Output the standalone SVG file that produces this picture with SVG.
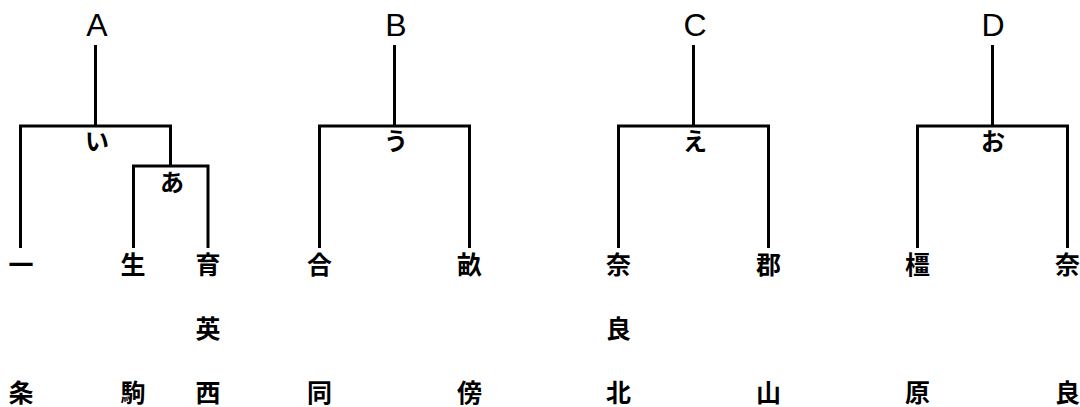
<svg xmlns="http://www.w3.org/2000/svg" width="1080" height="407" viewBox="0 0 1080 407">
<style>
.ln{fill:none;stroke:#000;stroke-width:3;stroke-linecap:butt;stroke-linejoin:miter}
.rt{font-family:"Liberation Sans","Noto Sans CJK JP",sans-serif;font-size:32px;text-anchor:middle;fill:#000}
.kn{font-family:"Noto Sans CJK JP",sans-serif;font-size:24px;font-weight:bold;text-anchor:middle;fill:#000}
.lf{font-family:"Noto Sans CJK JP",sans-serif;font-size:25px;font-weight:bold;text-anchor:middle;fill:#000}
</style>
<rect width="1080" height="407" fill="#fff"/>
<g id="connectors">
<path class="ln" d="M95.5,45V126M20.5,248V126H170.5V166M133.5,248V166H208V248"/>
<path class="ln" d="M394.5,45V126M319.5,248V126H469.5V248"/>
<path class="ln" d="M693.5,45V126M618.5,248V126H768.5V248"/>
<path class="ln" d="M992.5,45V126M917.5,248V126H1067.5V248"/>
</g>
<g id="root-A"><text class="rt" x="97" y="36">A</text></g>
<g id="root-B"><text class="rt" x="396" y="36">B</text></g>
<g id="root-C"><text class="rt" x="695" y="36">C</text></g>
<g id="root-D"><text class="rt" x="993" y="36">D</text></g>
<g id="node-i"><text class="kn" x="97" y="150">い</text></g>
<g id="node-a"><text class="kn" x="172" y="191">あ</text></g>
<g id="node-u"><text class="kn" x="396" y="150">う</text></g>
<g id="node-e"><text class="kn" x="695" y="150">え</text></g>
<g id="node-o"><text class="kn" x="993" y="150">お</text></g>
<g id="leaf-ichijo"><text class="lf" x="21" y="274">一</text><text class="lf" x="21" y="402">条</text></g>
<g id="leaf-ikoma"><text class="lf" x="133" y="274">生</text><text class="lf" x="133" y="402">駒</text></g>
<g id="leaf-ikueinishi"><text class="lf" x="208" y="274">育</text><text class="lf" x="208" y="338">英</text><text class="lf" x="208" y="402">西</text></g>
<g id="leaf-godo"><text class="lf" x="319.5" y="274">合</text><text class="lf" x="319.5" y="402">同</text></g>
<g id="leaf-unebi"><text class="lf" x="469.5" y="274">畝</text><text class="lf" x="469.5" y="402">傍</text></g>
<g id="leaf-narakita"><text class="lf" x="618.5" y="274">奈</text><text class="lf" x="618.5" y="338">良</text><text class="lf" x="618.5" y="402">北</text></g>
<g id="leaf-koriyama"><text class="lf" x="768.5" y="274">郡</text><text class="lf" x="768.5" y="402">山</text></g>
<g id="leaf-kashihara"><text class="lf" x="917.5" y="274">橿</text><text class="lf" x="917.5" y="402">原</text></g>
<g id="leaf-nara"><text class="lf" x="1067.5" y="274">奈</text><text class="lf" x="1067.5" y="402">良</text></g>
</svg>
